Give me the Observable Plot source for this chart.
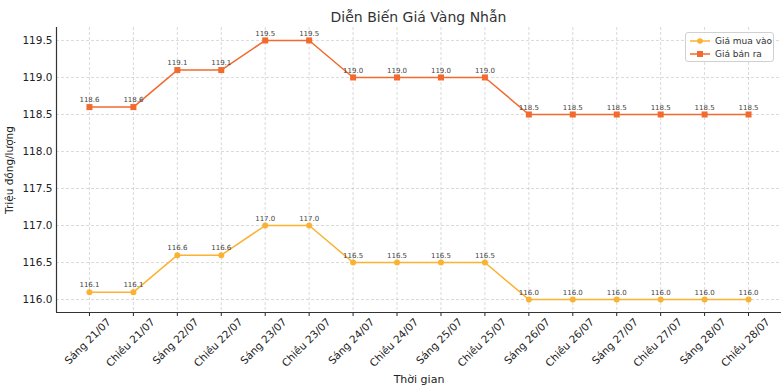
<!DOCTYPE html>
<html>
<head>
<meta charset="utf-8">
<script src="https://cdn.jsdelivr.net/npm/d3@7"></script>
<script src="https://cdn.jsdelivr.net/npm/@observablehq/plot@0.6"></script>
<style>
  html, body { margin: 0; padding: 0; background: #fff; }
  body { font-family: "DejaVu Sans", sans-serif; width: 781px; height: 386px; position: relative; overflow: hidden; }
  #title { height: 27px; box-sizing: border-box; padding-top: 10px; padding-left: 56px; text-align: center; font-size: 14px; line-height: 1; color: #333; }
  #legend { position: absolute; left: 685px; top: 32px; width: 89px; height: 30px; box-sizing: border-box; border: 1px solid #d0d0d0; border-radius: 3px; background: rgba(255,255,255,0.8); font-size: 9px; color: #333; white-space: nowrap; }
  #legend .row { position: absolute; left: 4px; height: 12px; display: flex; align-items: center; }
  #legend svg { margin-right: 5px; flex: none; }
</style>
</head>
<body>
<div id="title">Diễn Biến Giá Vàng Nhẫn</div>
<div id="chart"></div>
<div id="legend">
  <div class="row" style="top:2px"><svg width="20" height="8"><line x1="0" y1="4" x2="20" y2="4" stroke="#fbb232" stroke-width="1.5"/><circle cx="10" cy="4" r="2.8" fill="#fbb232"/></svg>Giá mua vào</div>
  <div class="row" style="top:15px"><svg width="20" height="8"><line x1="0" y1="4" x2="20" y2="4" stroke="#f26a2e" stroke-width="1.5"/><rect x="7" y="1" width="6" height="6" fill="#f26a2e"/></svg>Giá bán ra</div>
</div>
<script>
const labels = ["Sáng 21/07","Chiều 21/07","Sáng 22/07","Chiều 22/07","Sáng 23/07","Chiều 23/07","Sáng 24/07","Chiều 24/07","Sáng 25/07","Chiều 25/07","Sáng 26/07","Chiều 26/07","Sáng 27/07","Chiều 27/07","Sáng 28/07","Chiều 28/07"];
const buy  = [116.1,116.1,116.6,116.6,117.0,117.0,116.5,116.5,116.5,116.5,116.0,116.0,116.0,116.0,116.0,116.0];
const sell = [118.6,118.6,119.1,119.1,119.5,119.5,119.0,119.0,119.0,119.0,118.5,118.5,118.5,118.5,118.5,118.5];
const yTicks = [116.0,116.5,117.0,117.5,118.0,118.5,119.0,119.5];
const seriesNames = ["Giá mua vào","Giá bán ra"];
const colors = ["#fbb232","#f26a2e"];

const idx = labels.map((_, i) => i);
const buyRows = idx.map(i => ({i, v: buy[i]}));
const sellRows = idx.map(i => ({i, v: sell[i]}));
const xDomain = [-0.75, labels.length - 1 + 0.75];
const yDomain = [115.825, 119.675];

const grid = {stroke: "#b0b0b0", strokeOpacity: 0.6, strokeDasharray: "3,2", strokeWidth: 0.8};

const chart = Plot.plot({
  width: 781,
  height: 359,
  marginLeft: 56,
  marginRight: 0,
  marginTop: 0,
  marginBottom: 74,
  style: {fontFamily: "DejaVu Sans, sans-serif", color: "#222", background: "transparent", overflow: "visible"},
  x: {domain: xDomain},
  y: {domain: yDomain},
  marks: [
    Plot.gridX(idx, {...grid}),
    Plot.gridY(yTicks, {...grid}),
    Plot.axisY({ticks: yTicks, tickSize: 0, tickPadding: 4, tickFormat: d => d.toFixed(1), fontSize: 10.5, label: "Triệu đồng/lượng", labelAnchor: "center", labelArrow: "none", labelOffset: 51}),
    Plot.axisX({ticks: idx, tickSize: 4, tickFormat: () => "", label: "Thời gian", labelAnchor: "center", labelArrow: "none", labelOffset: 70, fontSize: 11}),
    Plot.text(idx, {x: i => i, text: i => labels[i], frameAnchor: "bottom", rotate: -45, textAnchor: "end", dx: 22, dy: 10, fontSize: 10.5, fill: "#222"}),
    Plot.ruleX([xDomain[0]], {stroke: "#333", strokeWidth: 1.2}),
    Plot.ruleY([yDomain[0]], {stroke: "#333", strokeWidth: 1.2}),
    Plot.line(buyRows, {x: "i", y: "v", stroke: colors[0], strokeWidth: 1.5}),
    Plot.dot(buyRows, {x: "i", y: "v", fill: colors[0], r: 3, symbol: "circle"}),
    Plot.text(buyRows, {x: "i", y: "v", text: d => d.v.toFixed(1), dy: -7, fontSize: 7, fill: "#444"}),
    Plot.line(sellRows, {x: "i", y: "v", stroke: colors[1], strokeWidth: 1.5}),
    Plot.dot(sellRows, {x: "i", y: "v", fill: colors[1], r: 3.4, symbol: "square"}),
    Plot.text(sellRows, {x: "i", y: "v", text: d => d.v.toFixed(1), dy: -7, fontSize: 7, fill: "#444"})
  ]
});
document.getElementById("chart").appendChild(chart);
</script>
</body>
</html>
